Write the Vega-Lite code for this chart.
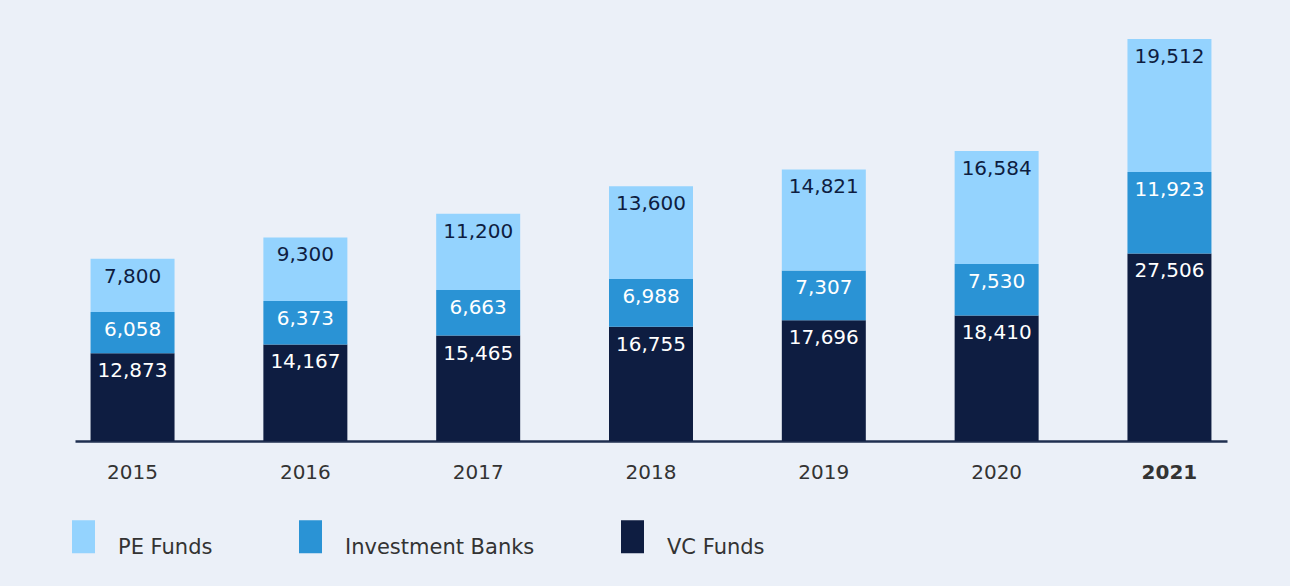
{
  "$schema": "https://vega.github.io/schema/vega-lite/v6.json",
  "width": 1152,
  "height": 402,
  "autosize": {"type": "none"},
  "padding": {"left": 75, "top": 39, "right": 63, "bottom": 145},
  "background": "#EBF0F8",
  "config": {"view": {"stroke": null}, "font": "DejaVu Sans"},
  "data": {
    "values": [
      {"year": "2015", "series": "VC Funds", "ord": 1, "value": 12873},
      {"year": "2015", "series": "Investment Banks", "ord": 2, "value": 6058},
      {"year": "2015", "series": "PE Funds", "ord": 3, "value": 7800},
      {"year": "2016", "series": "VC Funds", "ord": 1, "value": 14167},
      {"year": "2016", "series": "Investment Banks", "ord": 2, "value": 6373},
      {"year": "2016", "series": "PE Funds", "ord": 3, "value": 9300},
      {"year": "2017", "series": "VC Funds", "ord": 1, "value": 15465},
      {"year": "2017", "series": "Investment Banks", "ord": 2, "value": 6663},
      {"year": "2017", "series": "PE Funds", "ord": 3, "value": 11200},
      {"year": "2018", "series": "VC Funds", "ord": 1, "value": 16755},
      {"year": "2018", "series": "Investment Banks", "ord": 2, "value": 6988},
      {"year": "2018", "series": "PE Funds", "ord": 3, "value": 13600},
      {"year": "2019", "series": "VC Funds", "ord": 1, "value": 17696},
      {"year": "2019", "series": "Investment Banks", "ord": 2, "value": 7307},
      {"year": "2019", "series": "PE Funds", "ord": 3, "value": 14821},
      {"year": "2020", "series": "VC Funds", "ord": 1, "value": 18410},
      {"year": "2020", "series": "Investment Banks", "ord": 2, "value": 7530},
      {"year": "2020", "series": "PE Funds", "ord": 3, "value": 16584},
      {"year": "2021", "series": "VC Funds", "ord": 1, "value": 27506},
      {"year": "2021", "series": "Investment Banks", "ord": 2, "value": 11923},
      {"year": "2021", "series": "PE Funds", "ord": 3, "value": 19512}
    ]
  },
  "transform": [
    {"stack": "value", "groupby": ["year"], "sort": [{"field": "ord", "order": "ascending"}], "as": ["v0", "v1"]}
  ],
  "encoding": {
    "x": {
      "field": "year", "type": "ordinal",
      "scale": {"paddingInner": 0.514, "paddingOuter": 0.09},
      "axis": {
        "title": null, "ticks": false, "domainColor": "#1F2F50", "domainWidth": 2.5,
        "labelFontSize": 20, "labelColor": "#333333", "labelPadding": 21, "labelAngle": 0,
        "labelFontWeight": {"condition": {"test": "datum.value == '2021'", "value": "bold"}, "value": "normal"}
      }
    }
  },
  "layer": [
    {
      "mark": {"type": "bar"},
      "encoding": {
        "y": {"field": "v0", "type": "quantitative", "scale": {"domain": [0, 58941], "nice": false}, "axis": null},
        "y2": {"field": "v1"},
        "color": {
          "field": "series", "type": "nominal",
          "scale": {"domain": ["PE Funds", "Investment Banks", "VC Funds"], "range": ["#94D3FE", "#2A93D5", "#0E1D41"]},
          "legend": {
            "title": null, "orient": "none", "legendX": -8, "legendY": 481, "direction": "horizontal",
            "symbolType": "M-0.697,-1L0.697,-1L0.697,1L-0.697,1Z", "symbolSize": 1089, "symbolStrokeWidth": 0,
            "labelFontSize": 21, "labelColor": "#333333", "labelOffset": 18, "labelBaseline": "top",
            "columnPadding": 81, "labelLimit": 400
          }
        }
      }
    },
    {
      "mark": {"type": "text", "baseline": "top", "dy": 8, "fontSize": 20},
      "encoding": {
        "y": {"field": "v1", "type": "quantitative"},
        "text": {"field": "value", "type": "quantitative", "format": ","},
        "color": {"condition": {"test": "datum.series == 'PE Funds'", "value": "#0E1D41"}, "value": "#FFFFFF"}
      }
    }
  ]
}
